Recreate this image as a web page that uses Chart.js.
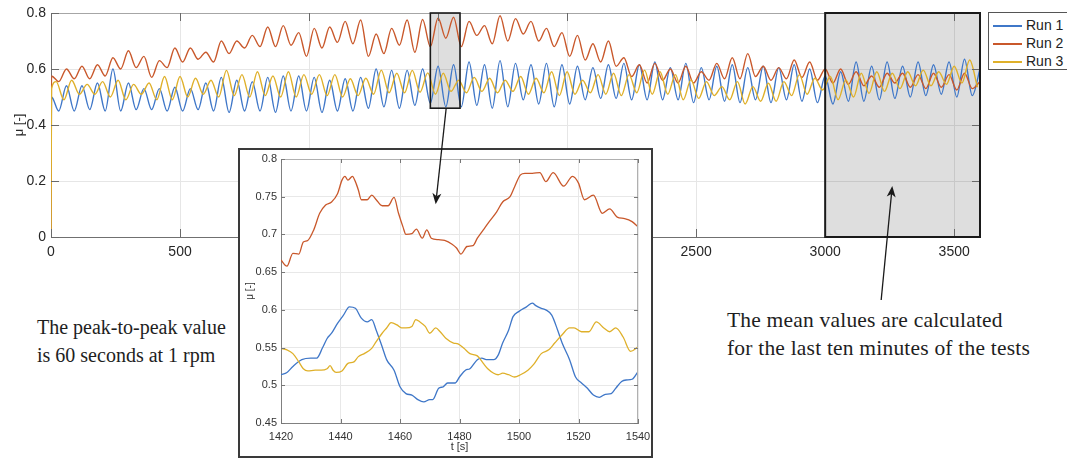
<!DOCTYPE html>
<html lang="en">
<head>
<meta charset="UTF-8">
<title>Friction coefficient - three runs</title>
<script src="https://cdn.jsdelivr.net/npm/chart.js"></script>
<style>
    body {
        margin: 0;
        width: 1067px;
        height: 458px;
        overflow: hidden;
        position: relative;
        background: #fff;
        font-family: "Liberation Sans", Arial, sans-serif;
    }
    #mainWrap { position: absolute; left: 0; top: 0; width: 1067px; height: 270px; }
    #insetBox {
        position: absolute; left: 238px; top: 148px; width: 415px; height: 310px;
        border: 2px solid #3a3a3a; box-sizing: border-box; background: #fff;
    }
    #insetWrap { position: absolute; left: 0; top: 0; width: 411px; height: 306px; }
    #legend {
        position: absolute; left: 988px; top: 12px; width: 82px; height: 58px;
        border: 1px solid #555; box-sizing: border-box; background: #fff;
        font-size: 14px; color: #222;
    }
    .legend-row { position: absolute; left: 4px; height: 18px; line-height: 18px; white-space: nowrap; }
    .legend-row span { display: inline-block; width: 29px; height: 2px; vertical-align: middle; margin-right: 4px; }
    .note {
        position: absolute; white-space: nowrap; color: #1e1e1e;
        font-family: "Liberation Serif", "Times New Roman", serif; line-height: 28px;
    }
    #noteLeft { left: 37px; top: 313px; font-size: 20px; }
    #noteRight { left: 727px; top: 306px; font-size: 21.5px; letter-spacing: 0.2px; }
    #arrows { position: absolute; left: 0; top: 0; pointer-events: none; }
</style>
</head>
<body>

<div id="mainWrap"><canvas id="mainChart"></canvas></div>

<div id="insetBox">
    <div id="insetWrap"><canvas id="insetChart"></canvas></div>
</div>

<div id="legend"></div>

<div class="note" id="noteLeft">The peak-to-peak value<br>is 60 seconds at 1 rpm</div>
<div class="note" id="noteRight">The mean values are calculated<br>for the last ten minutes of the tests</div>

<svg id="arrows" width="1067" height="458"></svg>

<script>
// series look
const seriesNames = ['Run 1', 'Run 2', 'Run 3'];
const seriesColors = ['#3f77c8', '#c9582b', '#dfb02a'];

// main plot, mu over 0..3600 s
// run1 / run2: first value just after start (t=2), then every 30 s (troughs and peaks)
// run3 lags ~20 s: first value at t=2, then 20, 50, 80 ... s
const run1 = [0.50,
    0.45,0.54, 0.45,0.54, 0.455,0.55, 0.45,0.60, 0.45,0.55, 0.455,0.53, 0.455,0.53, 0.45,0.535, 0.45,0.53, 0.455,0.55,
    0.45,0.57, 0.445,0.56, 0.45,0.555, 0.45,0.57, 0.445,0.575, 0.45,0.575, 0.45,0.57, 0.445,0.56, 0.45,0.565, 0.45,0.57,
    0.46,0.60, 0.465,0.595, 0.46,0.595, 0.47,0.60, 0.478,0.61, 0.465,0.615, 0.465,0.625, 0.47,0.615, 0.46,0.63, 0.465,0.62,
    0.49,0.615, 0.475,0.62, 0.465,0.615, 0.475,0.61, 0.49,0.605, 0.495,0.615, 0.495,0.62, 0.49,0.615, 0.49,0.625, 0.49,0.605,
    0.49,0.62, 0.48,0.605, 0.49,0.61, 0.485,0.615, 0.48,0.605, 0.49,0.61, 0.48,0.605, 0.49,0.615, 0.485,0.60, 0.48,0.575,
    0.475,0.59, 0.485,0.625, 0.485,0.61, 0.49,0.625, 0.495,0.61, 0.50,0.625, 0.505,0.615, 0.51,0.625, 0.50,0.635, 0.505,0.60
];
const run2 = [0.575,
    0.555,0.60, 0.565,0.61, 0.565,0.615, 0.575,0.64, 0.60,0.665, 0.605,0.645, 0.57,0.63, 0.605,0.675, 0.625,0.675, 0.635,0.66,
    0.625,0.70, 0.655,0.70, 0.675,0.72, 0.68,0.75, 0.68,0.755, 0.685,0.73, 0.645,0.745, 0.675,0.75, 0.695,0.77, 0.69,0.775,
    0.645,0.725, 0.655,0.745, 0.685,0.775, 0.66,0.777, 0.68,0.782, 0.71,0.785, 0.68,0.77, 0.72,0.755, 0.69,0.79, 0.70,0.78,
    0.725,0.77, 0.70,0.745, 0.68,0.73, 0.645,0.72, 0.632,0.69, 0.625,0.70, 0.61,0.64, 0.573,0.615, 0.55,0.62, 0.56,0.60,
    0.55,0.61, 0.55,0.59, 0.56,0.62, 0.565,0.64, 0.565,0.655, 0.573,0.61, 0.56,0.605, 0.565,0.632, 0.57,0.625, 0.56,0.60,
    0.55,0.60, 0.545,0.59, 0.54,0.575, 0.535,0.585, 0.55,0.585, 0.535,0.58, 0.53,0.585, 0.535,0.58, 0.525,0.585, 0.53,0.555
];
const run3 = [0.53,
    0.555,0.49, 0.56,0.51, 0.545,0.51, 0.555,0.50, 0.56,0.49, 0.545,0.51, 0.55,0.49, 0.573,0.49, 0.573,0.50, 0.567,0.51,
    0.56,0.50, 0.595,0.505, 0.58,0.50, 0.59,0.505, 0.575,0.50, 0.59,0.50, 0.58,0.51, 0.58,0.505, 0.58,0.50, 0.565,0.505,
    0.567,0.51, 0.596,0.515, 0.585,0.515, 0.595,0.517, 0.586,0.51, 0.585,0.52, 0.56,0.515, 0.57,0.52, 0.567,0.515, 0.56,0.52,
    0.573,0.51, 0.567,0.515, 0.59,0.505, 0.59,0.51, 0.56,0.515, 0.58,0.51, 0.585,0.505, 0.58,0.515, 0.596,0.51, 0.59,0.51,
    0.58,0.49, 0.561,0.495, 0.555,0.505, 0.537,0.49, 0.555,0.475, 0.537,0.485, 0.549,0.485, 0.555,0.505, 0.58,0.51, 0.567,0.525,
    0.573,0.49, 0.561,0.50, 0.585,0.513, 0.59,0.52, 0.585,0.53, 0.59,0.54, 0.596,0.54, 0.59,0.545, 0.61,0.55, 0.632,0.535
];
const mainXTicks = [0, 500, 1000, 1500, 2000, 2500, 3000, 3500];
const mainYTicks = [0, 0.2, 0.4, 0.6, 0.8];

// zoomed view 1420..1540 s
const insetT1 = [1420,1422,1424,1427,1430,1432,1434,1435.5,1437,1439,1441,1443,1445,1447,1449,1450.5,1452,1454,1455.5,1458,
    1460,1462,1464,1466,1468,1470,1471,1473,1474.5,1476,1478.5,1480,1482,1483.5,1486,1487.5,1489,1491.5,1493,1494.5,
    1496.5,1498,1500,1502.5,1504.5,1505.5,1507.5,1509,1511,1513,1514.5,1517,1519,1521,1523,1525,1527,1529,1531,1532.5,
    1534.5,1536,1538,1540];
const insetRun1 = [0.514,0.517,0.525,0.534,0.536,0.536,0.550,0.562,0.569,0.582,0.593,0.604,0.602,0.589,0.584,0.587,0.573,0.551,0.534,0.520,
    0.498,0.489,0.487,0.481,0.478,0.481,0.481,0.496,0.498,0.503,0.503,0.511,0.520,0.522,0.534,0.536,0.534,0.534,0.540,0.556,
    0.573,0.591,0.598,0.604,0.609,0.606,0.602,0.600,0.593,0.573,0.556,0.534,0.511,0.503,0.496,0.487,0.484,0.488,0.489,0.496,
    0.505,0.507,0.508,0.518];
const insetT2 = [1420,1422,1424,1426,1427.5,1429,1431,1433,1435,1437,1439,1440.5,1441.5,1442.5,1444,1445,1446,1447,1449,1450.5,
    1452,1454,1456,1458,1459.5,1461,1462,1464,1465.5,1467.5,1469,1470.5,1473,1475,1477.5,1479,1480.5,1482.5,1484.5,1486,
    1488,1490,1492.5,1494.5,1497,1498.5,1500.5,1502,1504.5,1507,1509,1511.5,1515,1518,1520,1522,1525,1528,1530.5,1533,
    1535.5,1538,1540];
const insetRun2 = [0.666,0.658,0.675,0.674,0.690,0.692,0.706,0.728,0.739,0.743,0.754,0.772,0.777,0.772,0.777,0.770,0.759,0.746,0.746,0.752,
    0.746,0.738,0.738,0.749,0.728,0.710,0.700,0.701,0.707,0.695,0.706,0.695,0.693,0.692,0.687,0.682,0.674,0.684,0.685,0.695,
    0.706,0.717,0.730,0.743,0.750,0.763,0.779,0.781,0.781,0.782,0.770,0.782,0.764,0.777,0.768,0.746,0.752,0.728,0.734,0.723,
    0.721,0.717,0.710];
const insetT3 = [1420,1422,1424,1426,1427.5,1429,1431.5,1433.5,1435.5,1436.5,1437.5,1438.5,1440.5,1442.5,1444.5,1446,1448,1450.5,1452,1454,
    1455.5,1457,1459,1460.5,1462,1464,1465.3,1466.7,1468.5,1470,1472,1473.5,1475.5,1478,1479.5,1481.5,1483.5,1486,1488,1489.5,
    1491.5,1493,1494.5,1496.5,1498.5,1500.5,1503,1505,1507.5,1510,1512,1514.5,1517,1518.5,1521,1523.5,1526,1528.5,1530.5,1532.5,
    1535,1537.5,1540];
const insetRun3 = [0.549,0.547,0.542,0.531,0.522,0.519,0.520,0.520,0.522,0.526,0.520,0.517,0.519,0.529,0.531,0.538,0.542,0.549,0.558,0.569,
    0.576,0.583,0.580,0.576,0.576,0.578,0.587,0.584,0.578,0.569,0.576,0.571,0.562,0.556,0.555,0.549,0.542,0.539,0.529,0.522,
    0.516,0.514,0.516,0.514,0.511,0.514,0.520,0.528,0.542,0.547,0.556,0.567,0.576,0.576,0.571,0.571,0.584,0.576,0.571,0.576,
    0.564,0.545,0.551];
const insetXTicks = [1420, 1440, 1460, 1480, 1500, 1520, 1540];
const insetYTicks = [0.45, 0.5, 0.55, 0.6, 0.65, 0.7, 0.75, 0.8];

// highlighted windows on the main plot (data units)
const zoomWindow = { x0: 1470, x1: 1585, y0: 0.46, y1: 0.8 };
const meanWindow = { x0: 3000, x1: 3600, y0: 0, y1: 0.8 };

// every run starts from 0 at t = 0
function mainPoints(values, lag) {
    const pts = [{ x: 0, y: 0 }];
    values.forEach((v, i) => pts.push({ x: i === 0 ? 2 : i * 30 - lag, y: v }));
    return pts;
}
function zipPoints(times, values) {
    return times.map((t, i) => ({ x: t, y: values[i] }));
}

// MATLAB-ish axes box: grey top/right edges, ticks pointing inwards, shaded windows
const framePlugin = {
    id: 'frame',
    beforeDatasetsDraw(chart, args, opts) {
        const { ctx, scales: { x, y } } = chart;
        ctx.save();
        (opts.boxes || []).forEach(b => {
            const l = x.getPixelForValue(b.x0), r = x.getPixelForValue(b.x1);
            const t = y.getPixelForValue(b.y1), btm = y.getPixelForValue(b.y0);
            ctx.fillStyle = 'rgba(0,0,0,0.13)';
            ctx.fillRect(l, t, r - l, btm - t);
        });
        ctx.restore();
    },
    afterDatasetsDraw(chart, args, opts) {
        const { ctx, chartArea: a, scales: { x, y } } = chart;
        ctx.save();
        ctx.lineWidth = 1;
        ctx.strokeStyle = opts.edgeColor;
        ctx.beginPath();
        ctx.moveTo(a.left, a.top + 0.5); ctx.lineTo(a.right, a.top + 0.5);
        ctx.moveTo(a.right - 0.5, a.top); ctx.lineTo(a.right - 0.5, a.bottom);
        ctx.stroke();

        ctx.strokeStyle = opts.tickColor;
        ctx.beginPath();
        x.ticks.forEach(tk => {
            const px = Math.round(x.getPixelForValue(tk.value)) + 0.5;
            ctx.moveTo(px, a.bottom); ctx.lineTo(px, a.bottom - opts.tickLen);
            ctx.moveTo(px, a.top); ctx.lineTo(px, a.top + opts.tickLen);
        });
        y.ticks.forEach(tk => {
            const py = Math.round(y.getPixelForValue(tk.value)) + 0.5;
            ctx.moveTo(a.left, py); ctx.lineTo(a.left + opts.tickLen, py);
            ctx.moveTo(a.right, py); ctx.lineTo(a.right - opts.tickLen, py);
        });
        ctx.stroke();

        (opts.boxes || []).forEach(b => {
            const l = x.getPixelForValue(b.x0), r = x.getPixelForValue(b.x1);
            const t = y.getPixelForValue(b.y1), btm = y.getPixelForValue(b.y0);
            ctx.strokeStyle = '#1a1a1a';
            ctx.lineWidth = b.width;
            ctx.strokeRect(l, t, r - l, btm - t);
        });
        ctx.restore();
    }
};

function lineSet(i, data, width) {
    return {
        label: seriesNames[i],
        data: data,
        borderColor: seriesColors[i],
        borderWidth: width,
        pointRadius: 0,
        fill: false,
        cubicInterpolationMode: 'monotone',
        order: 3 - i
    };
}

const mainChart = new Chart(document.getElementById('mainChart'), {
    type: 'line',
    data: {
        datasets: [
            lineSet(0, mainPoints(run1, 0), 1.4),
            lineSet(1, mainPoints(run2, 0), 1.4),
            lineSet(2, mainPoints(run3, 10), 1.4)
        ]
    },
    options: {
        animation: false,
        responsive: true,
        maintainAspectRatio: false,
        events: [],
        layout: { padding: { left: 0, right: 87, top: 13, bottom: 0 } },
        plugins: {
            legend: { display: false },
            tooltip: { enabled: false },
            frame: {
                edgeColor: '#a6a6a6', tickColor: '#6a6a6a', tickLen: 8,
                boxes: [Object.assign({ width: 1.6 }, zoomWindow), Object.assign({ width: 2 }, meanWindow)]
            }
        },
        scales: {
            x: {
                type: 'linear', min: 0, max: 3600,
                afterBuildTicks: s => { s.ticks = mainXTicks.map(v => ({ value: v })); },
                afterFit: s => { s.height = 33; s.paddingLeft = 0; s.paddingRight = 0; },
                grid: { color: '#e6e6e6', drawTicks: false },
                border: { color: '#707070' },
                ticks: {
                    autoSkip: false, maxRotation: 0, padding: 7, color: '#262626',
                    font: { family: 'Liberation Sans', size: 14 },
                    callback: v => String(v)
                }
            },
            y: {
                min: 0, max: 0.8,
                afterBuildTicks: s => { s.ticks = mainYTicks.map(v => ({ value: v })); },
                afterFit: s => { s.width = 51; s.paddingTop = 0; s.paddingBottom = 0; },
                grid: { color: '#e6e6e6', drawTicks: false },
                border: { color: '#707070' },
                ticks: {
                    padding: 5, color: '#262626',
                    font: { family: 'Liberation Sans', size: 14 },
                    callback: v => v === 0 ? '0' : v.toFixed(1)
                },
                title: {
                    display: true, text: 'μ [-]', color: '#262626',
                    font: { family: 'Liberation Sans', size: 13 },
                    padding: { top: 12, bottom: 0 }
                }
            }
        }
    },
    plugins: [framePlugin]
});

const insetChart = new Chart(document.getElementById('insetChart'), {
    type: 'line',
    data: {
        datasets: [
            lineSet(0, zipPoints(insetT1, insetRun1), 1.3),
            lineSet(1, zipPoints(insetT2, insetRun2), 1.3),
            lineSet(2, zipPoints(insetT3, insetRun3), 1.3)
        ]
    },
    options: {
        animation: false,
        responsive: true,
        maintainAspectRatio: false,
        events: [],
        layout: { padding: { left: 0, right: 13, top: 9, bottom: 0 } },
        plugins: {
            legend: { display: false },
            tooltip: { enabled: false },
            frame: { edgeColor: '#b0b0b0', tickColor: '#777', tickLen: 4, boxes: [] }
        },
        scales: {
            x: {
                type: 'linear', min: 1420, max: 1540,
                afterBuildTicks: s => { s.ticks = insetXTicks.map(v => ({ value: v })); },
                afterFit: s => { s.height = 33; s.paddingLeft = 0; s.paddingRight = 0; },
                grid: { color: '#e8e8e8', drawTicks: false },
                border: { color: '#808080' },
                ticks: {
                    autoSkip: false, maxRotation: 0, padding: 7, color: '#333',
                    font: { family: 'Liberation Sans', size: 11 },
                    callback: v => String(v)
                },
                title: {
                    display: true, text: 't [s]', color: '#333',
                    font: { family: 'Liberation Sans', size: 11 },
                    padding: { top: 0, bottom: 2 }
                }
            },
            y: {
                min: 0.45, max: 0.8,
                afterBuildTicks: s => { s.ticks = insetYTicks.map(v => ({ value: v })); },
                afterFit: s => { s.width = 41; s.paddingTop = 0; s.paddingBottom = 0; },
                grid: { color: '#e8e8e8', drawTicks: false },
                border: { color: '#808080' },
                ticks: {
                    padding: 4, color: '#333',
                    font: { family: 'Liberation Sans', size: 11 },
                    callback: v => String(+v.toFixed(2))
                },
                title: {
                    display: true, text: 'μ [-]', color: '#333',
                    font: { family: 'Liberation Sans', size: 10 },
                    padding: { top: 4, bottom: 0 }
                }
            }
        }
    },
    plugins: [framePlugin]
});

// legend
const legend = document.getElementById('legend');
seriesNames.forEach((name, i) => {
    const row = document.createElement('div');
    row.className = 'legend-row';
    row.style.top = (3 + i * 18) + 'px';
    row.innerHTML = '<span style="background:' + seriesColors[i] + '"></span>' + name;
    legend.appendChild(row);
});

// annotation arrows, anchored on the chart scales
const NS = 'http://www.w3.org/2000/svg';
const svg = document.getElementById('arrows');
function addArrow(x0, y0, x1, y1) {
    const dx = x1 - x0, dy = y1 - y0, len = Math.hypot(dx, dy);
    const ux = dx / len, uy = dy / len, px = -uy, py = ux;
    const headLen = 11, headW = 4.5, notch = 8;
    const line = document.createElementNS(NS, 'line');
    line.setAttribute('x1', x0); line.setAttribute('y1', y0);
    line.setAttribute('x2', x1 - ux * notch); line.setAttribute('y2', y1 - uy * notch);
    line.setAttribute('stroke', '#1a1a1a'); line.setAttribute('stroke-width', '1.3');
    svg.appendChild(line);
    const bx = x1 - ux * headLen, by = y1 - uy * headLen;
    const head = document.createElementNS(NS, 'polygon');
    head.setAttribute('points', [
        [x1, y1],
        [bx + px * headW, by + py * headW],
        [x1 - ux * notch, y1 - uy * notch],
        [bx - px * headW, by - py * headW]
    ].map(p => p.join(',')).join(' '));
    head.setAttribute('fill', '#1a1a1a');
    svg.appendChild(head);
}

const mx = mainChart.scales.x, my = mainChart.scales.y;
const ix = insetChart.scales.x, iy = insetChart.scales.y;
const insetLeft = 240, insetTop = 150;

addArrow(mx.getPixelForValue((zoomWindow.x0 + zoomWindow.x1) / 2) + 1, my.getPixelForValue(zoomWindow.y0),
         insetLeft + ix.getPixelForValue(1472), insetTop + iy.getPixelForValue(0.74));
addArrow(mx.getPixelForValue(3217), my.getPixelForValue(-0.225),
         mx.getPixelForValue(3260), my.getPixelForValue(0.182));
</script>
</body>
</html>
